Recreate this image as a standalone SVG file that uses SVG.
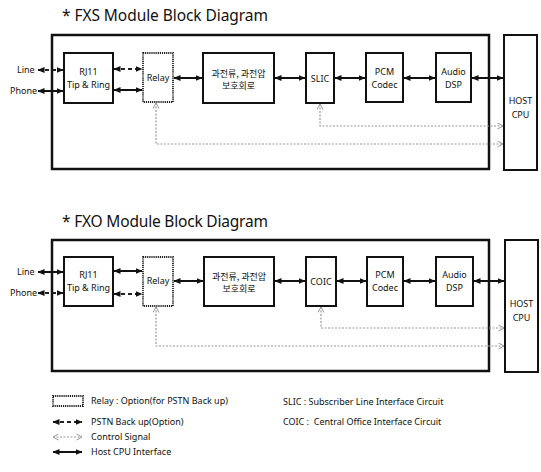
<svg xmlns="http://www.w3.org/2000/svg" width="541" height="472" viewBox="0 0 541 472">
<style>
.bg{fill:#fff}
.outer{fill:none;stroke:#111;stroke-width:2.5}
.box{fill:#fff;stroke:#111;stroke-width:2}
.relay{fill:#fff;stroke:#222;stroke-width:1.8;stroke-dasharray:1.2 0.9}
.t{font-family:"Noto Sans","Noto Sans CJK KR",sans-serif;font-size:9px;fill:#111;text-anchor:middle}
.k{font-family:"Noto Sans CJK KR","Noto Sans",sans-serif;font-size:9px;fill:#111;text-anchor:middle}
.title{font-family:"Noto Sans","Open Sans",sans-serif;font-size:15.5px;fill:#111}
.lg{font-family:"Noto Sans",sans-serif;font-size:9px;fill:#111;white-space:pre}
.lbl{font-family:"Noto Sans",sans-serif;font-size:9px;fill:#111}
.host{fill:none;stroke:#111;stroke-width:2;marker-start:url(#ah);marker-end:url(#ah)}
.pstn{fill:none;stroke:#222;stroke-width:2;stroke-dasharray:4 3;marker-start:url(#ah);marker-end:url(#ah)}
.ctl{fill:none;stroke:#9a9a9a;stroke-width:1.2;stroke-dasharray:2 1.5;marker-start:url(#ch);marker-end:url(#ch)}
</style>
<defs>
<marker id="ah" markerUnits="userSpaceOnUse" markerWidth="7" markerHeight="7" refX="6.5" refY="3.5" orient="auto-start-reverse"><path d="M0,0.5 L7,3.5 L0,6.5 z" fill="#111"/></marker>
<marker id="ch" markerUnits="userSpaceOnUse" markerWidth="7" markerHeight="7" refX="6" refY="3.5" orient="auto-start-reverse"><path d="M0.5,0.5 L6,3.5 L0.5,6.5" fill="none" stroke="#999" stroke-width="1"/></marker>
</defs>
<rect class="bg" x="0" y="0" width="541" height="472"/>

<!-- FXS -->
<text class="title" x="62" y="21" textLength="206">* FXS Module Block Diagram</text>
<rect class="outer" x="52" y="35" width="437" height="134"/>
<text class="lbl" x="17" y="73">Line</text>
<text class="lbl" x="10" y="94">Phone</text>
<g id="fxs-rj11"><rect class="box" x="64" y="53" width="49" height="50"/><text class="t" x="88.5" y="75">RJ11</text><text class="t" x="88.5" y="88">Tip &amp; Ring</text></g>
<g id="fxs-relay"><rect class="relay" x="143" y="53" width="30" height="49"/><text class="t" x="158" y="81">Relay</text></g>
<g id="fxs-prot"><rect class="box" x="203" y="53" width="71" height="50"/><text class="k" x="238.5" y="77">과전류, 과전압</text><text class="k" x="238.5" y="89">보호회로</text></g>
<g id="fxs-slic"><rect class="box" x="306" y="53" width="28" height="50"/><text class="t" x="320" y="82">SLIC</text></g>
<g id="fxs-pcm"><rect class="box" x="366" y="53" width="37" height="49"/><text class="t" x="384.5" y="75">PCM</text><text class="t" x="384.5" y="88">Codec</text></g>
<g id="fxs-dsp"><rect class="box" x="436" y="53" width="35" height="49"/><text class="t" x="453.5" y="75">Audio</text><text class="t" x="453.5" y="88">DSP</text></g>
<g id="fxs-host"><rect class="box" x="504" y="35" width="33" height="135"/><text class="t" x="520.5" y="104">HOST</text><text class="t" x="520.5" y="118">CPU</text></g>
<g id="fxs-connectors">
<line class="pstn" x1="38" y1="70" x2="63" y2="70"/>
<line class="host" x1="38" y1="91" x2="63" y2="91"/>
<line class="pstn" x1="114" y1="69" x2="142" y2="69"/>
<line class="host" x1="114" y1="90" x2="142" y2="90"/>
<line class="host" x1="174" y1="78" x2="202" y2="78"/>
<line class="host" x1="275" y1="78" x2="305" y2="78"/>
<line class="host" x1="335" y1="78" x2="365" y2="78"/>
<line class="host" x1="404" y1="78" x2="435" y2="78"/>
<line class="host" x1="472" y1="78" x2="503" y2="78"/>
<polyline class="ctl" points="156,103 156,144 503,144"/>
<polyline class="ctl" points="320,104 320,126 503,126"/>
</g>

<!-- FXO -->
<text class="title" x="62" y="227" textLength="206">* FXO Module Block Diagram</text>
<rect class="outer" x="52" y="240" width="437" height="131"/>
<text class="lbl" x="17" y="275">Line</text>
<text class="lbl" x="10" y="296">Phone</text>
<g id="fxo-rj11"><rect class="box" x="64" y="257" width="49" height="49"/><text class="t" x="88.5" y="278">RJ11</text><text class="t" x="88.5" y="291">Tip &amp; Ring</text></g>
<g id="fxo-relay"><rect class="relay" x="143" y="257" width="30" height="49"/><text class="t" x="158" y="284">Relay</text></g>
<g id="fxo-prot"><rect class="box" x="204" y="257" width="70" height="49"/><text class="k" x="239" y="280">과전류, 과전압</text><text class="k" x="239" y="292">보호회로</text></g>
<g id="fxo-coic"><rect class="box" x="306" y="257" width="30" height="49"/><text class="t" x="321" y="285">COIC</text></g>
<g id="fxo-pcm"><rect class="box" x="367" y="257" width="36" height="49"/><text class="t" x="385" y="278">PCM</text><text class="t" x="385" y="291">Codec</text></g>
<g id="fxo-dsp"><rect class="box" x="436" y="257" width="37" height="49"/><text class="t" x="454.5" y="278">Audio</text><text class="t" x="454.5" y="291">DSP</text></g>
<g id="fxo-host"><rect class="box" x="505" y="240" width="33" height="132"/><text class="t" x="521.5" y="307">HOST</text><text class="t" x="521.5" y="321">CPU</text></g>
<g id="fxo-connectors">
<line class="host" x1="38" y1="272" x2="63" y2="272"/>
<line class="pstn" x1="38" y1="293" x2="63" y2="293"/>
<line class="host" x1="114" y1="271" x2="142" y2="271"/>
<line class="pstn" x1="114" y1="294" x2="142" y2="294"/>
<line class="host" x1="174" y1="281" x2="203" y2="281"/>
<line class="host" x1="275" y1="281" x2="305" y2="281"/>
<line class="host" x1="337" y1="281" x2="366" y2="281"/>
<line class="host" x1="404" y1="281" x2="435" y2="281"/>
<line class="host" x1="474" y1="281" x2="504" y2="281"/>
<polyline class="ctl" points="156,307 156,346 504,346"/>
<polyline class="ctl" points="321,307 321,328 504,328"/>
</g>

<!-- Legend -->
<g id="legend">
<rect class="relay" x="53" y="396" width="30" height="10"/>
<text class="lg" x="91" y="404">Relay : Option(for PSTN Back up)</text>
<line class="pstn" x1="53" y1="422" x2="82" y2="422"/>
<text class="lg" x="91" y="425">PSTN Back up(Option)</text>
<line class="ctl" x1="53" y1="437" x2="82" y2="437"/>
<text class="lg" x="91" y="440">Control Signal</text>
<line class="host" x1="53" y1="452" x2="82" y2="452"/>
<text class="lg" x="91" y="455">Host CPU Interface</text>
<text class="lg" x="283" y="405">SLIC : Subscriber Line Interface Circuit</text>
<text class="lg" x="283" y="425">COIC :  Central Office Interface Circuit</text>
</g>
</svg>
